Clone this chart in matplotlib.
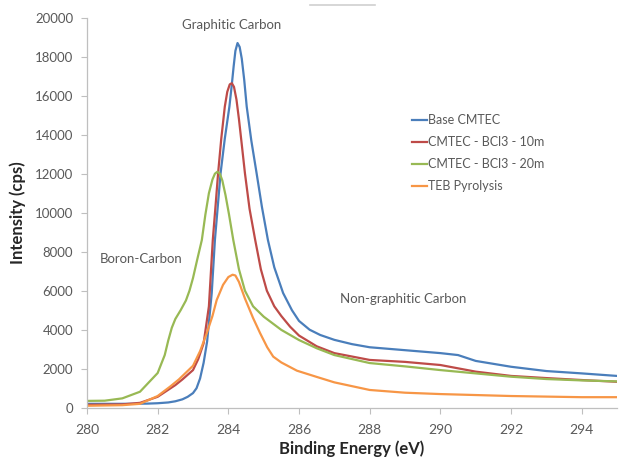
#!/usr/bin/env python
# -*- coding: utf8 -*-

'''XPS C1s spectra: intensity vs binding energy for four samples'''

import matplotlib
matplotlib.use('Agg')
import matplotlib.pyplot as plt
from matplotlib.lines import Line2D

# Values
base_x = [280, 281, 281.7, 282, 282.3, 282.5, 282.7, 282.85, 283, 283.1, 283.2,
          283.3, 283.4, 283.53, 283.62, 283.7, 283.78, 283.9, 284.03, 284.1,
          284.15, 284.2, 284.26, 284.32, 284.38, 284.45, 284.52, 284.65, 284.8,
          284.95, 285.12, 285.3, 285.55, 285.8, 286.0, 286.3, 286.6, 287, 287.5,
          288, 289, 290, 290.5, 291, 292, 293, 294, 295]
base_y = [200, 200, 210, 230, 270, 330, 430, 560, 750, 1000, 1500,
          2300, 3400, 5880, 8600, 10300, 12020, 13800, 15440, 16600,
          17500, 18300, 18700, 18500, 17900, 16800, 15440, 13700, 12020,
          10300, 8600, 7200, 5880, 5000, 4450, 4000, 3730, 3480, 3260,
          3100, 2950, 2800, 2700, 2400, 2100, 1880, 1760, 1630]

bcl10_x = [280, 281, 281.5, 282, 282.5, 282.7, 283, 283.15, 283.3, 283.45, 283.56,
           283.64, 283.71, 283.8, 283.9, 283.97, 284.04, 284.1, 284.16, 284.23,
           284.3, 284.38, 284.47, 284.6, 284.76, 284.92, 285.09, 285.3, 285.5,
           285.75, 286, 286.5, 287, 288, 289, 290, 291, 292, 293, 294, 295]
bcl10_y = [150, 170, 250, 560, 1160, 1450, 1930, 2500, 3300, 5200, 8600,
           10400, 12020, 13800, 15440, 16200, 16580, 16640, 16450, 15800,
           14800, 13500, 12020, 10200, 8600, 7100, 6000, 5200, 4700,
           4150, 3700, 3150, 2800, 2450, 2350, 2190, 1850, 1630, 1520, 1420, 1330]

bcl20_x = [280, 280.5, 281, 281.5, 282, 282.2, 282.3, 282.4, 282.5, 282.65, 282.8,
           282.9, 283, 283.12, 283.25, 283.35, 283.45, 283.55, 283.62, 283.69,
           283.76, 283.83, 283.92, 284.02, 284.14, 284.3, 284.47, 284.7, 285,
           285.5, 286, 286.5, 287, 288, 289, 290, 291, 292, 293, 294, 295]
bcl20_y = [350, 360, 480, 820, 1780, 2700, 3450, 4100, 4550, 5000, 5500,
           6000, 6650, 7600, 8600, 9900, 11000, 11700, 12000, 12100,
           12000, 11650, 10900, 9900, 8600, 7100, 6000, 5200, 4670,
           3990, 3470, 3050, 2700, 2290, 2120, 1930, 1760, 1590, 1470, 1400, 1350]

teb_x = [280, 281, 281.5, 282, 282.35, 282.6, 283, 283.2, 283.39, 283.55, 283.67,
         283.85, 284.0, 284.12, 284.2, 284.3, 284.47, 284.7, 284.9, 285.1, 285.27,
         285.5, 285.94, 286.5, 287, 288, 289, 290, 291, 292, 293, 294, 295]
teb_y = [100, 130, 200, 600, 1080, 1450, 2150, 2900, 3820, 4700, 5520,
         6300, 6700, 6820, 6780, 6450, 5600, 4600, 3820, 3100, 2620,
         2320, 1900, 1580, 1300, 910, 770, 700, 650, 600, 570, 540, 540]

series = [
    ('Base CMTEC', base_x, base_y, '#4A7EBB'),
    ('CMTEC - BCl3 - 10m', bcl10_x, bcl10_y, '#BE4B48'),
    ('CMTEC - BCl3 - 20m', bcl20_x, bcl20_y, '#98B954'),
    ('TEB Pyrolysis', teb_x, teb_y, '#F79646'),
]

x_ticks = [280, 282, 284, 286, 288, 290, 292, 294]
y_ticks = list(range(0, 20001, 2000))

text_grey = '#595959'
axis_grey = '#BFBFBF'


def make_plot(output_file):
    plt.rcParams['font.family'] = ['Lato', 'DejaVu Sans']
    fig = plt.figure(figsize=(6.29, 4.63), dpi=100)
    ax = fig.add_axes([0.1383, 0.1194, 0.8427, 0.8424])

    for name, xs, ys, col in series:
        ax.plot(xs, ys, color=col, lw=1.6, label=name, solid_joinstyle='round')

    ax.set_xlim(280, 295)
    ax.set_ylim(0, 20000)
    ax.set_xticks(x_ticks)
    ax.set_yticks(y_ticks)
    ax.tick_params(axis='x', labelsize=10, colors=axis_grey, labelcolor=text_grey,
                   length=4, width=0.8, pad=8)
    ax.tick_params(axis='y', labelsize=9.5, colors=axis_grey, labelcolor=text_grey,
                   length=4, width=0.8, pad=6)
    for side in ['top', 'right']:
        ax.spines[side].set_visible(False)
    for side in ['left', 'bottom']:
        ax.spines[side].set_color(axis_grey)
        ax.spines[side].set_linewidth(0.9)

    ax.set_xlabel('Binding Energy (eV)', fontsize=12, fontweight='bold',
                  color='#262626', labelpad=3)
    ax.set_ylabel('Intensity (cps)', fontsize=12, fontweight='bold',
                  color='#262626', labelpad=6)

    # Peak annotations
    ax.text(284.1, 19650, 'Graphitic Carbon', fontsize=9.5, color=text_grey,
            ha='center', va='center')
    ax.text(280.35, 7650, 'Boron-Carbon', fontsize=9.5, color=text_grey,
            ha='left', va='center')
    ax.text(287.15, 5550, 'Non-graphitic Carbon', fontsize=9.5, color=text_grey,
            ha='left', va='center')

    leg = ax.legend(loc='upper left', bbox_to_anchor=(0.603, 0.765), frameon=False,
                    fontsize=9, handlelength=1.2, handletextpad=0.1,
                    labelspacing=0.8, borderaxespad=0)
    for txt in leg.get_texts():
        txt.set_color(text_grey)

    # stray grey stroke at the top of the original image
    fig.add_artist(Line2D([0.493, 0.596], [0.989, 0.989], color='#D0D0D0', lw=1.2))

    fig.savefig(output_file, dpi=100)


def main():
    make_plot('out.png')


if __name__ == "__main__":
    main()
